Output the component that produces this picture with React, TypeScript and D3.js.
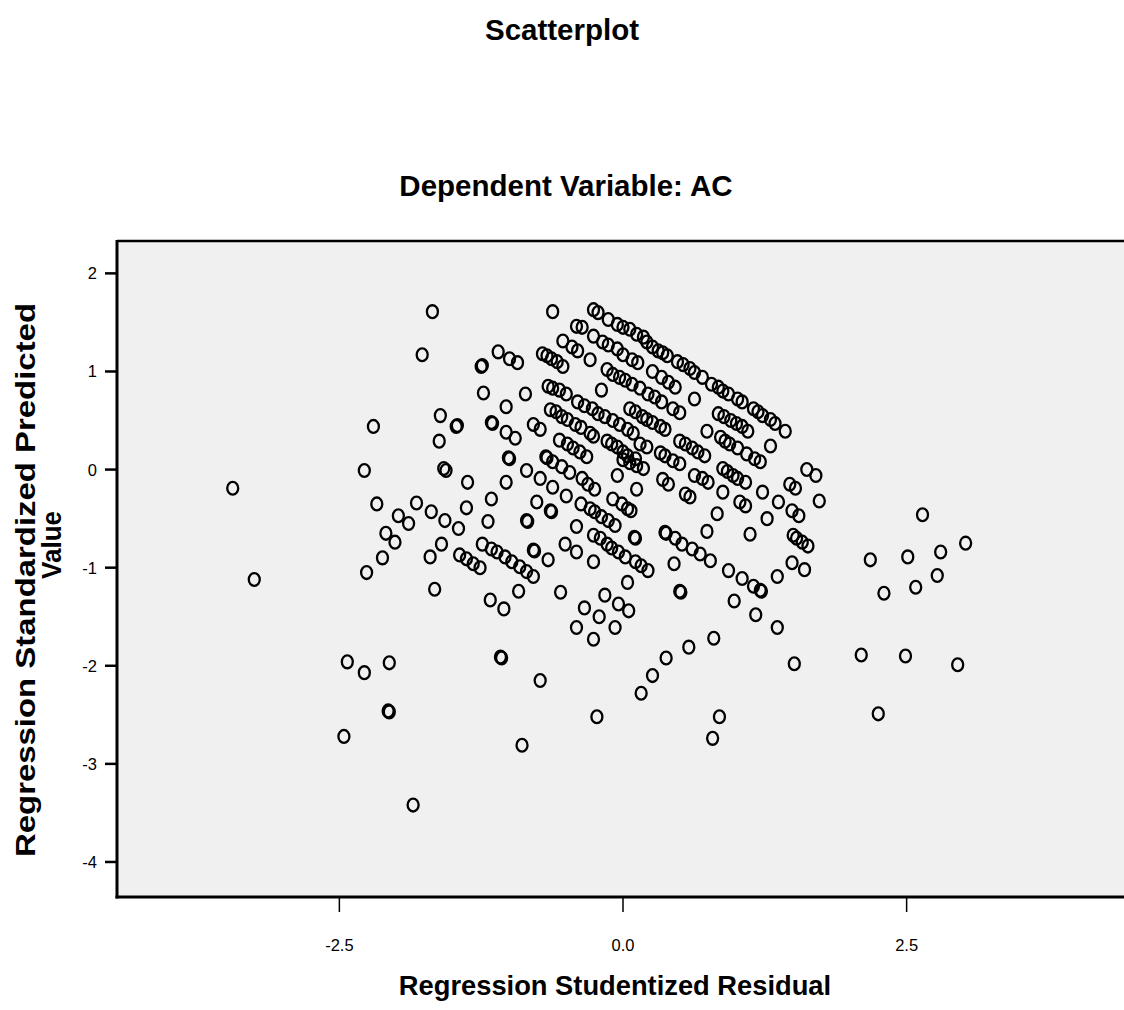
import React from "react";
import * as d3 from "d3";

// ---------- data (Regression Studentized Residual, Regression Standardized Predicted Value) ----------
const leftSparse: [number, number][] = [
  [-3.44,-0.19],[-3.25,-1.12],[-2.46,-2.72],[-2.43,-1.96],[-2.28,-2.07],[-2.06,-1.97],[-2.07,-2.46],[-2.06,-2.47],
  [-1.85,-3.42],[-2.26,-1.05],[-2.12,-0.90],[-2.01,-0.74],[-2.09,-0.65],[-2.17,-0.35],[-1.98,-0.47],[-1.89,-0.55],
  [-1.82,-0.34],[-1.69,-0.43],[-1.70,-0.89],[-1.66,-1.22],[-1.60,-0.76],[-1.57,-0.52],[-2.28,-0.01],[-2.20,0.44],
  [-1.77,1.17],[-1.68,1.61],[-1.61,0.55],[-1.62,0.29],[-1.58,0.01],[-1.56,-0.01],[-1.47,0.44],[-1.46,0.45],
  [-1.37,-0.13],[-1.44,-0.87],[-1.38,-0.91],[-1.32,-0.96],[-1.26,-1.00],[-1.38,-0.39],[-1.45,-0.60],
];

const lowerMid: [number, number][] = [
  [-1.17,-1.33],[-1.05,-1.42],[-0.92,-1.24],[-0.55,-1.25],[-1.08,-1.91],[-1.07,-1.92],[-0.73,-2.15],[-0.89,-2.81],
  [-0.23,-2.52],[-0.34,-1.41],[-0.21,-1.50],[-0.04,-1.37],[0.05,-1.44],[-0.41,-1.61],[-0.07,-1.61],[-0.26,-1.73],
  [-0.16,-1.28],[0.04,-1.15],[0.50,-1.24],[0.51,-1.25],[0.98,-1.34],[1.17,-1.48],[1.36,-1.61],[0.80,-1.72],
  [0.58,-1.81],[0.38,-1.92],[0.26,-2.10],[0.16,-2.28],[0.85,-2.52],[0.79,-2.74],[1.51,-1.98],
];

const rightSparse: [number, number][] = [
  [2.18,-0.92],[2.51,-0.89],[2.80,-0.84],[3.02,-0.75],[2.64,-0.46],[2.77,-1.08],[2.58,-1.20],[2.30,-1.26],
  [2.10,-1.89],[2.49,-1.90],[2.95,-1.99],[2.25,-2.49],
];

const leftCluster: [number, number][] = [
  [-1.19,-0.53],[-1.16,-0.30],[-1.03,-0.13],[-1.25,1.05],[-1.24,1.06],[-1.10,1.20],[-1.00,1.13],[-0.93,1.09],
  [-1.23,0.78],[-1.03,0.64],[-0.86,0.77],[-1.16,0.48],[-1.15,0.47],[-1.03,0.38],[-0.95,0.32],[-0.79,0.46],
  [-0.73,0.41],[-1.01,0.12],[-1.00,0.11],[-0.85,-0.01],[-0.68,0.13],[-0.67,0.12],[-0.62,1.61],[-0.73,-0.09],
  [-0.62,-0.18],[-0.50,-0.27],[-0.76,-0.33],[-0.64,-0.42],[-0.63,-0.43],[-0.85,-0.52],[-0.84,-0.53],
  [-1.24,-0.76],[-1.16,-0.81],[-1.11,-0.84],[-1.04,-0.89],[-0.98,-0.94],[-0.91,-0.99],[-0.85,-1.04],[-0.79,-1.09],
  [-0.79,-0.82],[-0.78,-0.83],[-0.66,-0.92],[-0.51,-0.76],[-0.41,-0.84],[-0.26,-0.94],[-0.41,-0.58],
];

const midCluster: [number, number][] = [
  [-0.47,-0.03],[-0.36,-0.09],[-0.31,-0.15],[-0.25,-0.20],
  [-0.37,-0.35],[-0.29,-0.40],[-0.25,-0.43],[-0.19,-0.48],[-0.13,-0.52],[-0.07,-0.57],
  [-0.09,-0.30],[-0.01,-0.35],[0.04,-0.40],[0.07,-0.42],[-0.05,-0.06],[0.12,-0.20],
  [-0.26,-0.67],[-0.20,-0.70],[-0.14,-0.76],[-0.10,-0.80],[-0.04,-0.84],[0.02,-0.89],[0.11,-0.94],[0.16,-0.98],[0.22,-1.03],
  [0.10,-0.69],[0.11,-0.70],[-0.62,0.08],[-0.54,0.03],
];

const rightCluster: [number, number][] = [
  [0.45,-0.96],[0.37,-0.64],[0.38,-0.65],[0.46,-0.70],[0.52,-0.76],[0.61,-0.81],[0.68,-0.86],[0.77,-0.93],
  [0.74,-0.63],[0.83,-0.45],[0.88,-0.23],[0.93,-1.03],[1.05,-1.11],[1.15,-1.19],[1.21,-1.23],[1.22,-1.24],
  [1.36,-1.09],[1.49,-0.95],[1.60,-1.02],[1.50,-0.67],[1.53,-0.70],[1.58,-0.74],[1.63,-0.78],[1.49,-0.42],
  [1.55,-0.47],[1.73,-0.32],[1.37,-0.33],[1.47,-0.15],[1.52,-0.19],[1.62,0.00],[1.70,-0.06],[1.27,-0.50],
  [1.12,-0.66],[1.23,-0.23],[1.03,-0.33],[1.08,-0.37],[0.92,-0.02],[0.97,-0.06],[1.08,-0.13],[1.01,-0.09],
  [0.88,0.01],[0.35,-0.10],[0.40,-0.15],[0.55,-0.25],[0.59,-0.28],[0.63,-0.06],[0.70,-0.09],[0.75,-0.13],[1.30,0.24],
];

const bandA: [number, number][] = [
  [-0.26,1.63],[-0.22,1.60],[-0.13,1.53],[-0.05,1.48],[0.00,1.45],[0.06,1.43],[0.12,1.38],[0.18,1.35],[0.21,1.30],
  [0.26,1.25],[0.31,1.21],[0.35,1.19],[0.39,1.16],[0.48,1.10],[0.53,1.07],[0.59,1.03],[0.63,0.99],[0.70,0.94],
  [0.78,0.87],[0.84,0.84],[0.88,0.80],[0.93,0.77],[1.01,0.72],[1.05,0.69],[1.15,0.62],[1.19,0.59],[1.23,0.55],
  [1.30,0.51],[1.34,0.47],[1.43,0.39],
];

const bandB: [number, number][] = [
  [-0.41,1.46],[-0.36,1.45],[-0.26,1.36],[-0.18,1.30],[-0.13,1.27],[-0.05,1.23],[0.00,1.17],[0.08,1.12],[0.13,1.09],
  [0.26,1.00],[0.34,0.94],[0.40,0.89],[0.46,0.84],[0.63,0.72],[0.84,0.57],[0.89,0.54],[0.95,0.50],[1.00,0.47],
  [1.05,0.44],[1.10,0.39],
];

const bandC: [number, number][] = [
  [-0.53,1.31],[-0.45,1.25],[-0.40,1.21],[-0.29,1.12],[-0.14,1.02],[-0.09,0.97],[-0.03,0.94],[0.02,0.91],[0.08,0.87],
  [0.15,0.83],[0.22,0.77],[0.28,0.74],[0.34,0.69],[0.44,0.62],[0.50,0.58],[0.74,0.39],[0.86,0.33],[0.90,0.29],
  [0.94,0.26],[1.01,0.22],[1.09,0.16],[1.16,0.11],[1.21,0.08],
];

const bandD: [number, number][] = [
  [-0.71,1.18],[-0.67,1.16],[-0.63,1.13],[-0.58,1.10],[-0.53,1.05],
  [-0.66,0.85],[-0.62,0.83],[-0.56,0.81],[-0.50,0.77],[-0.19,0.81],
];

const bandF: [number, number][] = [
  [-0.40,0.69],[-0.34,0.65],[-0.27,0.62],[-0.22,0.57],[-0.16,0.54],[-0.09,0.50],[-0.03,0.46],[0.04,0.41],[0.09,0.37],
  [0.06,0.62],[0.11,0.59],[0.17,0.54],[0.21,0.51],[0.26,0.48],[0.33,0.44],[0.37,0.41],[0.50,0.29],[0.55,0.26],
  [0.61,0.22],[0.66,0.18],[0.72,0.14],
  [0.15,0.26],[0.21,0.23],[0.33,0.17],[0.37,0.14],[0.44,0.09],[0.50,0.06],
];

const bandG: [number, number][] = [
  [-0.64,0.61],[-0.59,0.59],[-0.54,0.54],[-0.49,0.51],[-0.42,0.46],[-0.37,0.43],[-0.29,0.37],[-0.26,0.34],
  [-0.56,0.30],[-0.49,0.26],[-0.44,0.22],[-0.38,0.18],[-0.32,0.13],
  [-0.14,0.29],[-0.10,0.26],[-0.05,0.23],[0.00,0.18],[0.04,0.14],[0.11,0.11],
  [0.00,0.10],[0.06,0.07],[0.12,0.04],[0.18,0.01],
];

const xTicks = [-2.5, 0.0, 2.5];
const yTicks = [2, 1, 0, -1, -2, -3, -4];

const chartTitle = "Scatterplot";
const chartSubtitle = "Dependent Variable: AC";
const xTitle = "Regression Studentized Residual";
const yTitleLines = ["Regression Standardized Predicted", "Value"];

// ---------- layout ----------
const W = 1124;
const H = 1010;
const plot = { left: 117, right: 1129, top: 241, bottom: 897 };
const FONT = "'Liberation Sans', Arial, Helvetica, sans-serif";

const fmtY = (t: number) => String(t);
const fmtX = (t: number) => t.toFixed(1);

export default function App() {
  const x = d3.scaleLinear().domain([-4.46, 4.46]).range([plot.left, plot.right]);
  const y = d3.scaleLinear().domain([-4.357, 2.33]).range([plot.bottom, plot.top]);

  const points = [
    ...leftSparse, ...lowerMid, ...rightSparse, ...leftCluster, ...midCluster, ...rightCluster,
    ...bandA, ...bandB, ...bandC, ...bandD, ...bandF, ...bandG,
  ];

  return (
    <div style={{ position: "absolute", left: 0, top: 0, width: W, height: H, background: "#fff" }}>
      <svg width={W} height={H} style={{ display: "block" }}>
        <rect x={0} y={0} width={W} height={H} fill="#ffffff" />
        <text x={562} y={40} textAnchor="middle" fontFamily={FONT} fontWeight="bold" fontSize={29.5} fill="#000">
          {chartTitle}
        </text>
        <text x={566} y={196} textAnchor="middle" fontFamily={FONT} fontWeight="bold" fontSize={29.5} fill="#000">
          {chartSubtitle}
        </text>

        <rect x={plot.left} y={plot.top} width={plot.right - plot.left} height={plot.bottom - plot.top} fill="#f0f0f0" />
        <line x1={plot.left} x2={plot.right} y1={plot.top} y2={plot.top} stroke="#000" strokeWidth={2.5} />
        <line x1={plot.left} x2={plot.left} y1={plot.top - 1} y2={plot.bottom + 1.5} stroke="#000" strokeWidth={3} />
        <line x1={plot.left - 1.5} x2={plot.right} y1={plot.bottom} y2={plot.bottom} stroke="#000" strokeWidth={3} />

        {yTicks.map((t) => (
          <g key={"y" + t}>
            <line x1={plot.left - 12} x2={plot.left} y1={y(t)} y2={y(t)} stroke="#000" strokeWidth={2.5} />
            <text x={97} y={y(t)} dy="0.36em" textAnchor="end" fontFamily={FONT} fontSize={16.5} fill="#000">
              {fmtY(t)}
            </text>
          </g>
        ))}
        {xTicks.map((t) => (
          <g key={"x" + t}>
            <line x1={x(t)} x2={x(t)} y1={plot.bottom} y2={plot.bottom + 15} stroke="#000" strokeWidth={1.5} />
            <text x={x(t)} y={951} textAnchor="middle" fontFamily={FONT} fontSize={16.5} fill="#000">
              {fmtX(t)}
            </text>
          </g>
        ))}

        {points.map((p, i) => (
          <ellipse key={i} cx={x(p[0])} cy={y(p[1])} rx={5.5} ry={6.4} fill="none" stroke="#000" strokeWidth={2.3} />
        ))}

        <text x={615} y={995} textAnchor="middle" fontFamily={FONT} fontWeight="bold" fontSize={27.3} fill="#000">
          {xTitle}
        </text>
        <text transform="translate(35,580) rotate(-90)" textAnchor="middle" fontFamily={FONT} fontWeight="bold"
          fontSize={27} fill="#000" textLength={554} lengthAdjust="spacingAndGlyphs">
          {yTitleLines[0]}
        </text>
        <text transform="translate(61,545) rotate(-90)" textAnchor="middle" fontFamily={FONT} fontWeight="bold"
          fontSize={27} fill="#000" textLength={68} lengthAdjust="spacingAndGlyphs">
          {yTitleLines[1]}
        </text>
      </svg>
    </div>
  );
}
